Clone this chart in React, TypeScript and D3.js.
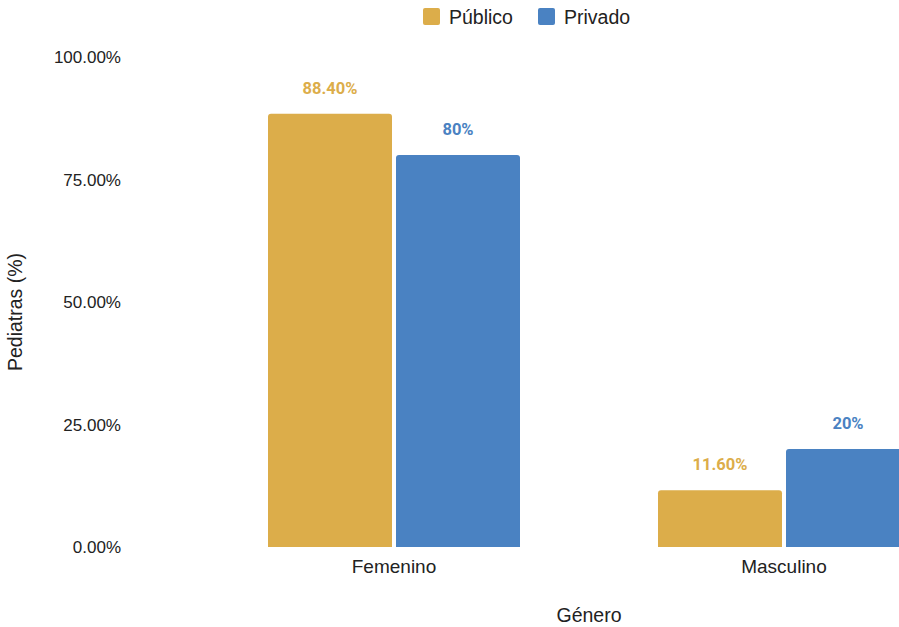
import React from "react";
import * as d3 from "d3";

const categories = ["Femenino", "Masculino"];
const seriesNames = ["Público", "Privado"];
const publicoValues = [88.4, 11.6];
const privadoValues = [80, 20];
const valueLabelsPublico = ["88.40%", "11.60%"];
const valueLabelsPrivado = ["80%", "20%"];
const yTicks = [0, 25, 50, 75, 100];
const colors = ["#DCAD4A", "#4A82C2"];

const W = 899;
const H = 627;

export default function App() {
  const y = d3.scaleLinear().domain([0, 100]).range([547, 57]);
  const x = d3.scaleBand().domain(categories).range([199, 979]).padding(0);
  const sub = d3.scaleBand().domain(seriesNames).range([0, 252]).paddingInner(4 / 128).paddingOuter(0);
  const series = [publicoValues, privadoValues];
  const labels = [valueLabelsPublico, valueLabelsPrivado];
  const font = "'Liberation Sans', Arial, sans-serif";
  const r = 3;

  const barPath = (x0: number, w: number, top: number, bottom: number) => {
    const rr = Math.min(r, (bottom - top) / 2);
    return `M${x0},${bottom}V${top + rr}Q${x0},${top} ${x0 + rr},${top}H${x0 + w - rr}Q${x0 + w},${top} ${x0 + w},${top + rr}V${bottom}Z`;
  };

  return (
    <svg width={W} height={H} style={{ position: "absolute", left: 0, top: 0, background: "#fff" }}>
      {/* legend */}
      {seriesNames.map((s, i) => {
        const lx = [423, 538][i];
        return (
          <g key={s}>
            <rect x={lx} y={8} width={17} height={17} rx={2} fill={colors[i]} />
            <text x={lx + 26} y={23.5} fontFamily={font} fontSize={19.5} fill="#222">{s}</text>
          </g>
        );
      })}
      {/* y ticks */}
      {yTicks.map((t) => (
        <text key={t} x={121} y={y(t) + 6} textAnchor="end" fontFamily={font} fontSize={17} fill="#222">
          {t.toFixed(2) + "%"}
        </text>
      ))}
      <text transform={`translate(22,312) rotate(-90)`} textAnchor="middle" fontFamily={font} fontSize={19.5} fill="#222">
        Pediatras (%)
      </text>
      {/* bars */}
      {categories.map((c, ci) => {
        const cx = (x(c) as number) + x.bandwidth() / 2;
        const g0 = cx - 126;
        return (
          <g key={c}>
            {seriesNames.map((s, si) => {
              const bx = g0 + (sub(s) as number);
              const bw = sub.bandwidth();
              const v = series[si][ci];
              const top = y(v);
              return (
                <g key={s}>
                  <path d={barPath(bx, bw, top, y(0))} fill={colors[si]} />
                  <text x={bx + bw / 2} y={top - 20} textAnchor="middle" fontFamily="Roboto, sans-serif" fontWeight="bold" fontSize={16.5} fill={colors[si]}>
                    {labels[si][ci]}
                  </text>
                </g>
              );
            })}
            <text x={cx} y={573} textAnchor="middle" fontFamily={font} fontSize={19} fill="#222">{c}</text>
          </g>
        );
      })}
      <text x={589} y={622} textAnchor="middle" fontFamily={font} fontSize={19.5} fill="#222">Género</text>
    </svg>
  );
}
